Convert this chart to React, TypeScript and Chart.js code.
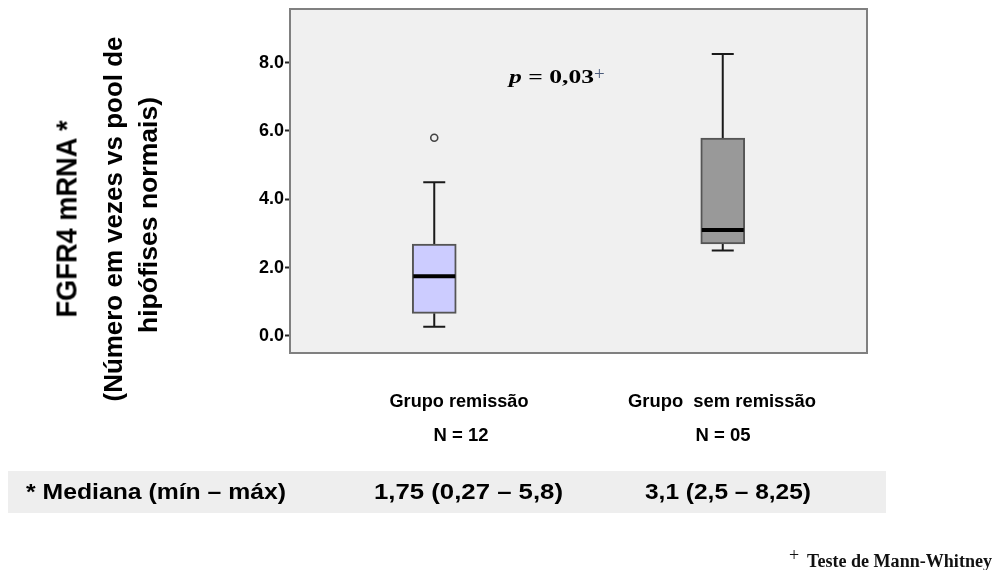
import React, { useEffect, useRef } from "react";
import { Chart, registerables } from "chart.js";

Chart.register(...registerables);

// ---------------- data ----------------
const categories = ["Grupo remissão", "Grupo sem remissão"];
const groupLabels = ["Grupo remissão", "Grupo  sem remissão"];
const groupCounts = ["N = 12", "N = 05"];
const mins = [0.27, 2.5];
const q1s = [0.66, 2.69];
const medians = [1.75, 3.1];
const q3s = [2.69, 5.79];
const maxs = [4.5, 8.25];
const outliers: (number | null)[] = [5.8, null];
const boxColors = ["#ccccff", "#999999"];
const yTicks = [0, 2, 4, 6, 8];
const yMin = -0.5;
const yMax = 9.57;
const yTitleLines = ["FGFR4 mRNA *", "(Número em vezes vs pool de", "hipófises normais)"];
const pLetter = "p";
const pRest = " = 0,03";
const plusSign = "+";
const summaryLabel = "* Mediana (mín – máx)";
const summaryValues = ["1,75 (0,27 – 5,8)", "3,1 (2,5 – 8,25)"];
const testNote = "Teste de Mann-Whitney";

const SANS = "'Liberation Sans', Arial, sans-serif";
const SERIF = "'Liberation Serif', 'Times New Roman', serif";

let measureCtx: CanvasRenderingContext2D | null = null;
function measure(text: string, font: string): number {
  if (!measureCtx) measureCtx = document.createElement("canvas").getContext("2d");
  if (!measureCtx) return 1;
  measureCtx.font = font;
  return measureCtx.measureText(text).width || 1;
}

type FitProps = {
  text: string;
  x: number;
  y: number;
  size: number;
  family: string;
  weight?: string;
  italic?: boolean;
  width?: number;
  align?: "left" | "center";
  rotate?: boolean;
  color?: string;
};

function FitText({ text, x, y, size, family, weight = "bold", italic = false, width, align = "left", rotate = false, color = "#000" }: FitProps) {
  const font = `${italic ? "italic " : ""}${weight} ${size}px ${family}`;
  const natural = measure(text, font);
  const sx = width ? width / natural : 1;
  let transform = `translate(0,-50%) scaleX(${sx})`;
  let origin = "left center";
  if (rotate) {
    transform = `translate(-50%,-50%) rotate(-90deg) scaleX(${sx})`;
    origin = "center center";
  } else if (align === "center") {
    transform = `translate(-50%,-50%) scaleX(${sx})`;
    origin = "center center";
  }
  return (
    <span
      style={{
        position: "absolute",
        left: x,
        top: y,
        fontFamily: family,
        fontSize: size,
        fontWeight: weight as any,
        fontStyle: italic ? "italic" : "normal",
        lineHeight: 1,
        whiteSpace: "pre",
        color,
        transform,
        transformOrigin: origin,
      }}
    >
      {text}
    </span>
  );
}

const boxPlugin = {
  id: "boxDecor",
  beforeDraw(chart: any) {
    const { ctx, chartArea: a } = chart;
    ctx.save();
    ctx.fillStyle = "#f0f0f0";
    ctx.fillRect(a.left, a.top, a.right - a.left, a.bottom - a.top);
    ctx.restore();
  },
  beforeDatasetsDraw(chart: any) {
    const { ctx } = chart;
    const xs = chart.scales.x;
    const ys = chart.scales.y;
    ctx.save();
    ctx.strokeStyle = "#1a1a1a";
    ctx.lineWidth = 2;
    for (let i = 0; i < categories.length; i++) {
      const x = xs.getPixelForValue(i);
      const yMaxP = ys.getPixelForValue(maxs[i]);
      const yQ3 = ys.getPixelForValue(q3s[i]);
      const yQ1 = ys.getPixelForValue(q1s[i]);
      const yMinP = ys.getPixelForValue(mins[i]);
      ctx.beginPath();
      ctx.moveTo(x, yQ3);
      ctx.lineTo(x, yMaxP);
      ctx.moveTo(x - 11, yMaxP);
      ctx.lineTo(x + 11, yMaxP);
      ctx.moveTo(x, yQ1);
      ctx.lineTo(x, yMinP);
      ctx.moveTo(x - 11, yMinP);
      ctx.lineTo(x + 11, yMinP);
      ctx.stroke();
    }
    ctx.restore();
  },
  afterDatasetsDraw(chart: any) {
    const { ctx } = chart;
    const xs = chart.scales.x;
    const ys = chart.scales.y;
    ctx.save();
    ctx.strokeStyle = "#000";
    ctx.lineWidth = 4;
    for (let i = 0; i < categories.length; i++) {
      const x = xs.getPixelForValue(i);
      const y = ys.getPixelForValue(medians[i]);
      ctx.beginPath();
      ctx.moveTo(x - 21, y);
      ctx.lineTo(x + 21, y);
      ctx.stroke();
    }
    ctx.restore();
  },
  afterDraw(chart: any) {
    const { ctx, chartArea: a } = chart;
    ctx.save();
    ctx.strokeStyle = "#808080";
    ctx.lineWidth = 2;
    ctx.strokeRect(a.left, a.top, a.right - a.left, a.bottom - a.top);
    ctx.restore();
  },
};

export default function App() {
  const ref = useRef<HTMLCanvasElement | null>(null);

  useEffect(() => {
    if (!ref.current) return;
    const chart = new Chart(ref.current, {
      type: "bar",
      data: {
        labels: categories,
        datasets: [
          {
            type: "bar",
            data: q1s.map((q, i) => [q, q3s[i]]) as any,
            backgroundColor: boxColors,
            borderColor: "#555555",
            borderWidth: 2,
            borderSkipped: false,
            barThickness: 44,
            grouped: false,
            order: 2,
          } as any,
          {
            type: "line",
            data: outliers as any,
            showLine: false,
            pointRadius: 3.5,
            pointBorderWidth: 1.6,
            pointBorderColor: "#444444",
            pointBackgroundColor: "rgba(0,0,0,0)",
            order: 1,
          } as any,
        ],
      },
      options: {
        responsive: false,
        animation: false,
        devicePixelRatio: 1,
        events: [],
        layout: { padding: { left: 202, right: 131, top: 9, bottom: 217 } },
        plugins: { legend: { display: false }, tooltip: { enabled: false } },
        scales: {
          x: { display: false, offset: true },
          y: {
            min: yMin,
            max: yMax,
            afterBuildTicks: (s: any) => {
              s.ticks = yTicks.map((v) => ({ value: v }));
            },
            afterFit: (s: any) => {
              s.width = 88;
              s.paddingTop = 0;
              s.paddingBottom = 0;
            },
            ticks: {
              callback: (v: any) => Number(v).toFixed(1),
              color: "#000",
              font: { family: SANS, size: 18, weight: "bold" },
              padding: 1,
            },
            grid: {
              drawOnChartArea: false,
              drawTicks: true,
              tickLength: 5,
              tickWidth: 2,
              tickColor: "#222222",
            },
            border: { display: false },
          } as any,
        },
      },
      plugins: [boxPlugin as any],
    });
    return () => chart.destroy();
  }, []);

  const pSize = 19;
  const pFontItalic = `italic bold ${pSize}px ${SERIF}`;
  const pFont = `bold ${pSize}px ${SERIF}`;
  const pNatural = measure(pLetter, pFontItalic) + measure(pRest, pFont);
  const pScale = 85 / pNatural;

  return (
    <div style={{ position: "absolute", left: 0, top: 0, width: 998, height: 570, overflow: "hidden", background: "#fff" }}>
      <div style={{ position: "absolute", left: 8, top: 471, width: 878, height: 42, background: "#eeeeee" }} />
      <canvas ref={ref} width={998} height={570} style={{ position: "absolute", left: 0, top: 0, width: 998, height: 570 }} />

      <FitText text={yTitleLines[0]} x={67} y={219} size={29} family={SANS} width={198} rotate />
      <FitText text={yTitleLines[1]} x={113} y={218.5} size={26} family={SANS} width={365} rotate />
      <FitText text={yTitleLines[2]} x={148} y={215} size={26} family={SANS} width={236} rotate />

      <span
        style={{
          position: "absolute",
          left: 509,
          top: 75.5,
          fontFamily: SERIF,
          fontSize: pSize,
          fontWeight: "bold",
          lineHeight: 1,
          whiteSpace: "pre",
          color: "#000",
          transform: `translate(0,-50%) scaleX(${pScale})`,
          transformOrigin: "left center",
        }}
      >
        <span style={{ fontStyle: "italic" }}>{pLetter}</span>
        {pRest}
      </span>
      <FitText text={plusSign} x={594} y={73} size={19} family={SERIF} weight="normal" color="#4a5a7a" />

      <FitText text={groupLabels[0]} x={458.5} y={400.5} size={18} family={SANS} width={139} align="center" />
      <FitText text={groupLabels[1]} x={722} y={400.5} size={18} family={SANS} width={188} align="center" />
      <FitText text={groupCounts[0]} x={460.5} y={435} size={18} family={SANS} width={55} align="center" />
      <FitText text={groupCounts[1]} x={722.5} y={435} size={18} family={SANS} width={55} align="center" />

      <FitText text={summaryLabel} x={26} y={492} size={22} family={SANS} width={260} />
      <FitText text={summaryValues[0]} x={374} y={492} size={22} family={SANS} width={189} />
      <FitText text={summaryValues[1]} x={645} y={492} size={22} family={SANS} width={166} />

      <FitText text={plusSign} x={789} y={555} size={18} family={SERIF} weight="normal" color="#111" />
      <FitText text={testNote} x={807} y={561} size={18} family={SERIF} width={185} color="#111" />
    </div>
  );
}
